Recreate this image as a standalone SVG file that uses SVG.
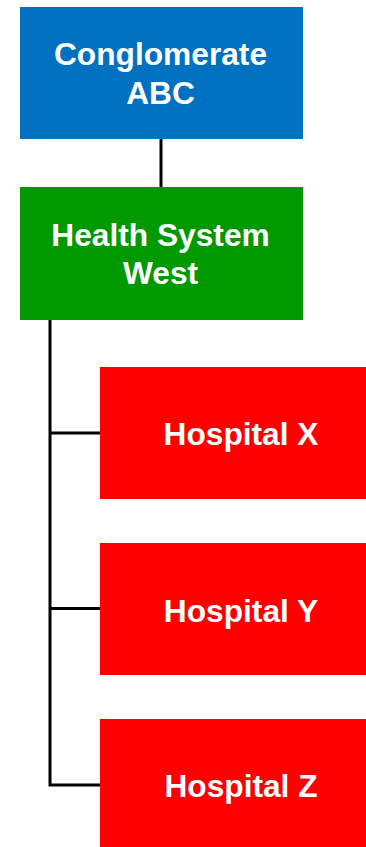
<svg xmlns="http://www.w3.org/2000/svg" width="366" height="847" viewBox="0 0 366 847">
<style>
.lbl{font-family:"Liberation Sans",Arial,sans-serif;font-weight:bold;font-size:31.7px;fill:#fff;text-anchor:middle}
.con{stroke:#000;stroke-width:3;fill:none}
</style>
<rect width="366" height="847" fill="#fff"/>
<g id="connectors">
<line class="con" x1="161" y1="139" x2="161" y2="187"/>
<polyline class="con" points="50,320 50,785 100,785"/>
<line class="con" x1="50" y1="433" x2="100" y2="433"/>
<line class="con" x1="50" y1="608.5" x2="100" y2="608.5"/>
</g>
<g id="conglomerate">
<rect x="20" y="7" width="283" height="132" fill="#0070C0"/>
<text class="lbl" x="160.5" y="65">Conglomerate</text>
<text class="lbl" x="160.5" y="104">ABC</text>
</g>
<g id="health-system-west">
<rect x="20" y="187" width="283" height="133" fill="#009900"/>
<text class="lbl" x="160.5" y="246">Health System</text>
<text class="lbl" x="160.5" y="284">West</text>
</g>
<g id="hospital-x">
<rect x="100" y="367" width="283" height="132" fill="#FF0000"/>
<text class="lbl" x="241" y="445">Hospital X</text>
</g>
<g id="hospital-y">
<rect x="100" y="543" width="283" height="132" fill="#FF0000"/>
<text class="lbl" x="241" y="621.5">Hospital Y</text>
</g>
<g id="hospital-z">
<rect x="100" y="719" width="283" height="132" fill="#FF0000"/>
<text class="lbl" x="241" y="796.5">Hospital Z</text>
</g>
</svg>
